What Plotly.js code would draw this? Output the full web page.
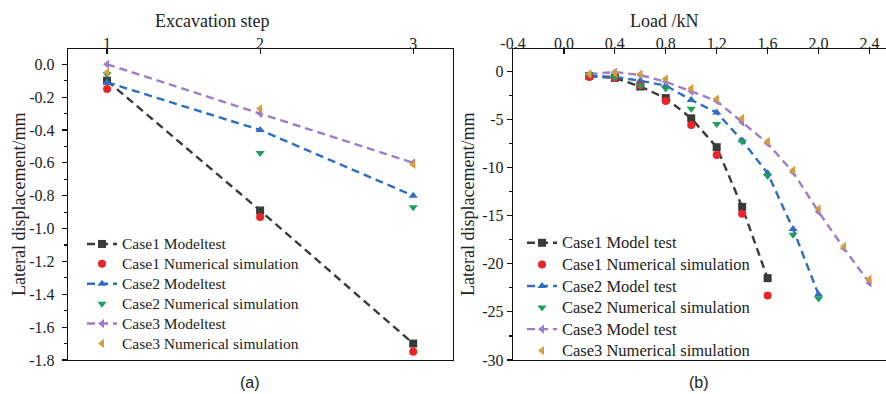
<!DOCTYPE html>
<html>
<head>
<meta charset="utf-8">
<script src="https://cdn.plot.ly/plotly-3.0.1.min.js"></script>
<style>
  html, body { margin: 0; padding: 0; background: #fff; }
  #chart { width: 886px; height: 394px; }
</style>
</head>
<body>
<div id="chart"></div>
<script>
// (a) lateral displacement vs excavation step
const steps = [1, 2, 3];
const case1ModelA = [-0.10, -0.89, -1.70];
const case1NumA   = [-0.15, -0.93, -1.75];
const case2ModelA = [-0.11, -0.40, -0.80];
const case2NumA   = [-0.06, -0.54, -0.87];
const case3ModelA = [0.00, -0.30, -0.60];
const case3NumA   = [-0.05, -0.27, -0.61];

// (b) lateral displacement vs load
const loads1 = [0.2, 0.4, 0.6, 0.8, 1.0, 1.2, 1.4, 1.6];
const case1ModelB = [-0.5, -0.7, -1.6, -2.8, -4.9, -7.9, -14.1, -21.5];
const case1NumB   = [-0.6, -0.7, -1.5, -3.1, -5.6, -8.7, -14.8, -23.3];
const loads2 = [0.2, 0.4, 0.6, 0.8, 1.0, 1.2, 1.4, 1.6, 1.8, 2.0];
const case2ModelB = [-0.5, -0.6, -1.0, -1.5, -3.0, -4.3, -7.2, -10.6, -16.4, -23.2];
const case2NumB   = [-0.4, -0.65, -1.5, -1.8, -3.9, -5.5, -7.3, -10.9, -17.0, -23.6];
const loads3 = [0.2, 0.4, 0.6, 0.8, 1.0, 1.2, 1.4, 1.6, 1.8, 2.0, 2.2, 2.4];
const case3ModelB = [-0.3, -0.1, -0.4, -1.1, -2.1, -3.1, -5.3, -7.5, -10.5, -14.6, -18.4, -22.0];
const case3NumB   = [-0.3, -0.2, -0.3, -0.8, -1.8, -2.9, -4.9, -7.3, -10.3, -14.3, -18.2, -21.6];

// legend names
const namesA = ['Case1 Modeltest', 'Case1 Numerical simulation', 'Case2 Modeltest',
                'Case2 Numerical simulation', 'Case3 Modeltest', 'Case3 Numerical simulation'];
const namesB = ['Case1 Model test', 'Case1 Numerical simulation', 'Case2 Model test',
                'Case2 Numerical simulation', 'Case3 Model test', 'Case3 Numerical simulation'];

// tick labels
const stepTicks = [1, 2, 3];
const stepTickText = ['1', '2', '3'];
const dispTicksA = [0, -0.2, -0.4, -0.6, -0.8, -1.0, -1.2, -1.4, -1.6, -1.8];
const dispTickTextA = ['0.0', '-0.2', '-0.4', '-0.6', '-0.8', '-1.0', '-1.2', '-1.4', '-1.6', '-1.8'];
const loadTicks = [-0.4, 0, 0.4, 0.8, 1.2, 1.6, 2.0, 2.4];
const loadTickText = ['-0.4', '0.0', '0.4', '0.8', '1.2', '1.6', '2.0', '2.4'];
const dispTicksB = [0, -5, -10, -15, -20, -25, -30];
const dispTickTextB = ['0', '-5', '-10', '-15', '-20', '-25', '-30'];

const stepRange = [0.745, 3.26];
const loadRange = [-0.4, 2.53];

const C = {
  black: '#3a3a3a', red: '#ec2329', blue: '#2f6dc2',
  green: '#1c9f5c', purple: '#9c7dc9', orange: '#d39f3a'
};
const DASH = '8px,5px';
const serif = "'Liberation Serif', 'Times New Roman', serif";
const NBSP = '\u00a0';

// legend entry text sized independently of the row pitch
const big = (t, s) => '<span style="font-size:' + s + 'px">' + t + '</span>';

function model(x, y, name, color, symbol, xa, ya, lg) {
  return {
    x: x, y: y, name: name, type: 'scatter', mode: 'lines+markers',
    xaxis: xa, yaxis: ya, legend: lg,
    line: { color: color, width: 2.4, dash: DASH },
    marker: { color: color, symbol: symbol, size: 8 }
  };
}
function numeric(x, y, name, color, symbol, xa, ya, lg) {
  return {
    x: x, y: y, name: name, type: 'scatter', mode: 'markers',
    xaxis: xa, yaxis: ya, legend: lg,
    marker: { color: color, symbol: symbol, size: 8 }
  };
}

const nA = namesA.map(t => big(t, 15.5));
const nB = namesB.map(t => big(t, 16.5));

// simulation markers sit on the label-carrying twin x axes (same range and domain)
const data = [
  model(steps, case1ModelA, nA[0], C.black, 'square', 'x', 'y', 'legend'),
  numeric(steps, case1NumA, nA[1], C.red, 'circle', 'x3', 'y', 'legend'),
  model(steps, case2ModelA, nA[2], C.blue, 'triangle-up', 'x', 'y', 'legend'),
  numeric(steps, case2NumA, nA[3], C.green, 'triangle-down', 'x3', 'y', 'legend'),
  model(steps, case3ModelA, nA[4], C.purple, 'triangle-left', 'x', 'y', 'legend'),
  numeric(steps, case3NumA, nA[5], C.orange, 'triangle-left', 'x3', 'y', 'legend'),

  model(loads1, case1ModelB, nB[0], C.black, 'square', 'x2', 'y2', 'legend2'),
  numeric(loads1, case1NumB, nB[1], C.red, 'circle', 'x4', 'y2', 'legend2'),
  model(loads2, case2ModelB, nB[2], C.blue, 'triangle-up', 'x2', 'y2', 'legend2'),
  numeric(loads2, case2NumB, nB[3], C.green, 'triangle-down', 'x4', 'y2', 'legend2'),
  model(loads3, case3ModelB, nB[4], C.purple, 'triangle-left', 'x2', 'y2', 'legend2'),
  numeric(loads3, case3NumB, nB[5], C.orange, 'triangle-left', 'x4', 'y2', 'legend2')
];

const W = 886, H = 394;
const px = v => v / W;
const py = v => 1 - v / H;

const axisCommon = {
  showgrid: false, zeroline: false, showline: true,
  linecolor: '#111', linewidth: 1.3, tickcolor: '#111', tickwidth: 1.2,
  tickfont: { family: serif, size: 16, color: '#222' },
  tickmode: 'array', fixedrange: true
};

// twin top axes that carry the numbers just under the frame line
function topLabels(overlay, domain, range, vals, text) {
  return {
    overlaying: overlay, anchor: 'free', position: py(52.5), side: 'top',
    domain: domain, range: range, tickmode: 'array', tickvals: vals, ticktext: text,
    showline: false, showgrid: false, zeroline: false, ticks: '', fixedrange: true,
    tickfont: { family: serif, size: 16, color: '#222' }
  };
}

const layout = {
  width: W, height: H,
  margin: { l: 0, r: 0, t: 0, b: 0 },
  paper_bgcolor: '#fff', plot_bgcolor: '#fff',
  showlegend: true,
  xaxis: Object.assign({}, axisCommon, {
    domain: [px(68), px(453)], anchor: 'y', side: 'top', mirror: true,
    range: stepRange, tickvals: stepTicks, showticklabels: false,
    ticks: 'inside', ticklen: 5
  }),
  xaxis3: topLabels('x', [px(68), px(453)], stepRange, stepTicks, stepTickText),
  yaxis: Object.assign({}, axisCommon, {
    domain: [py(360), py(49)], anchor: 'x', mirror: true,
    range: [-1.8, 0.093], tickvals: dispTicksA,
    ticktext: dispTickTextA.map(t => t + NBSP),
    ticks: 'outside', ticklen: 5,
    minor: { dtick: 0.1, tick0: 0, ticks: 'outside', ticklen: 3, tickcolor: '#111' }
  }),
  xaxis2: Object.assign({}, axisCommon, {
    domain: [px(513), 1], anchor: 'y2', side: 'top', mirror: true,
    range: loadRange, tickvals: loadTicks, showticklabels: false,
    ticks: 'inside', ticklen: 5
  }),
  xaxis4: topLabels('x2', [px(513), 1], loadRange, loadTicks, loadTickText),
  yaxis2: Object.assign({}, axisCommon, {
    domain: [py(360), py(49)], anchor: 'x2',
    range: [-30, 2.3], tickvals: dispTicksB, ticktext: dispTickTextB,
    ticks: 'outside', ticklen: 5,
    minor: { dtick: 2.5, tick0: 0, ticks: 'outside', ticklen: 3, tickcolor: '#111' }
  }),
  legend: {
    x: px(82), y: py(229), xanchor: 'left', yanchor: 'top',
    bgcolor: 'rgba(0,0,0,0)', borderwidth: 0,
    font: { family: serif, size: 13, color: '#222' }
  },
  legend2: {
    x: px(522), y: py(227), xanchor: 'left', yanchor: 'top',
    bgcolor: 'rgba(0,0,0,0)', borderwidth: 0,
    font: { family: serif, size: 14.3, color: '#222' }
  },
  annotations: [
    { text: 'Excavation step', x: px(212), y: py(21), xref: 'paper', yref: 'paper',
      showarrow: false, xanchor: 'center', yanchor: 'middle',
      font: { family: serif, size: 18, color: '#222' } },
    { text: 'Lateral displacement/mm', x: px(19), y: py(205), xref: 'paper', yref: 'paper',
      showarrow: false, textangle: -90, xanchor: 'center', yanchor: 'middle',
      font: { family: serif, size: 18, color: '#222' } },
    { text: 'Load /kN', x: px(664), y: py(21), xref: 'paper', yref: 'paper',
      showarrow: false, xanchor: 'center', yanchor: 'middle',
      font: { family: serif, size: 18, color: '#222' } },
    { text: 'Lateral displacement/mm', x: px(468), y: py(205), xref: 'paper', yref: 'paper',
      showarrow: false, textangle: -90, xanchor: 'center', yanchor: 'middle',
      font: { family: serif, size: 18, color: '#222' } },
    { text: '(a)', x: px(250), y: py(382), xref: 'paper', yref: 'paper',
      showarrow: false, xanchor: 'center', yanchor: 'middle',
      font: { family: "'Liberation Sans', Arial, sans-serif", size: 16, color: '#222' } },
    { text: '(b)', x: px(699), y: py(382), xref: 'paper', yref: 'paper',
      showarrow: false, xanchor: 'center', yanchor: 'middle',
      font: { family: "'Liberation Sans', Arial, sans-serif", size: 16, color: '#222' } }
  ]
};

Plotly.newPlot('chart', data, layout, { staticPlot: true, displayModeBar: false });
</script>
</body>
</html>
